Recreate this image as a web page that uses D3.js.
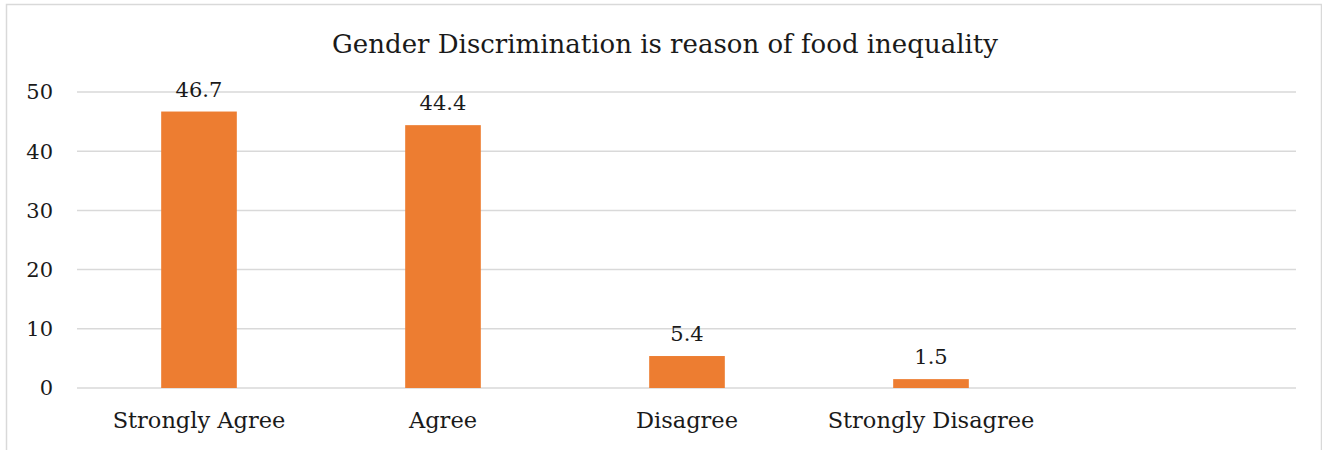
<!DOCTYPE html>
<html>
<head>
<meta charset="utf-8">
<script src="https://cdn.jsdelivr.net/npm/d3@7"></script>
<style>
  body { margin: 0; background: #fff; }
  svg text { font-family: "DejaVu Serif", serif; fill: #1a1a1a; }
</style>
</head>
<body>
<div id="chart"></div>
<script>
/* Chart data */
const categories = ["Strongly Agree", "Agree", "Disagree", "Strongly Disagree", ""];
const values = [46.7, 44.4, 5.4, 1.5, null];
const yTicks = [0, 10, 20, 30, 40, 50];
const title = "Gender Discrimination is reason of food inequality";

/* Layout */
const width = 1322, height = 450;
const margin = { top: 92, right: 26, bottom: 62, left: 77 };

const svg = d3.select("#chart")
  .append("svg")
  .attr("width", width)
  .attr("height", height);

/* Chart border */
svg.append("rect")
  .attr("x", 6.5)
  .attr("y", 4.5)
  .attr("width", 1315)
  .attr("height", 460)
  .attr("fill", "none")
  .attr("stroke", "#d9d9d9")
  .attr("stroke-width", 1.5);

const x = d3.scaleBand()
  .domain(categories)
  .range([margin.left, width - margin.right + 1])
  .paddingInner(0.69)
  .paddingOuter(0.345);

const y = d3.scaleLinear()
  .domain([0, 50])
  .range([height - margin.bottom, margin.top]);

/* Gridlines */
svg.append("g")
  .selectAll("line")
  .data(yTicks)
  .join("line")
  .attr("x1", margin.left)
  .attr("x2", width - margin.right)
  .attr("y1", d => y(d))
  .attr("y2", d => y(d))
  .attr("stroke", "#d9d9d9")
  .attr("stroke-width", 1.5);

/* Y tick labels */
svg.append("g")
  .selectAll("text")
  .data(yTicks)
  .join("text")
  .attr("x", 53)
  .attr("y", d => y(d))
  .attr("dy", "0.35em")
  .attr("text-anchor", "end")
  .style("font-size", "21px")
  .text(d => d);

/* Bars */
const barData = categories.map((c, i) => ({ c, v: values[i] })).filter(d => d.v !== null);

svg.append("g")
  .selectAll("rect")
  .data(barData)
  .join("rect")
  .attr("x", d => x(d.c))
  .attr("y", d => y(d.v))
  .attr("width", x.bandwidth())
  .attr("height", d => y(0) - y(d.v))
  .attr("fill", "#ED7D31");

/* Value labels */
svg.append("g")
  .selectAll("text")
  .data(barData)
  .join("text")
  .attr("x", d => x(d.c) + x.bandwidth() / 2)
  .attr("y", d => y(d.v) - 15)
  .attr("text-anchor", "middle")
  .style("font-size", "21px")
  .text(d => d.v);

/* Category labels */
svg.append("g")
  .selectAll("text")
  .data(categories.filter(c => c))
  .join("text")
  .attr("x", d => x(d) + x.bandwidth() / 2)
  .attr("y", 428)
  .attr("text-anchor", "middle")
  .style("font-size", "22.5px")
  .text(d => d);

/* Title */
svg.append("text")
  .attr("x", 665)
  .attr("y", 53)
  .attr("text-anchor", "middle")
  .style("font-size", "26px")
  .text(title);
</script>
</body>
</html>
